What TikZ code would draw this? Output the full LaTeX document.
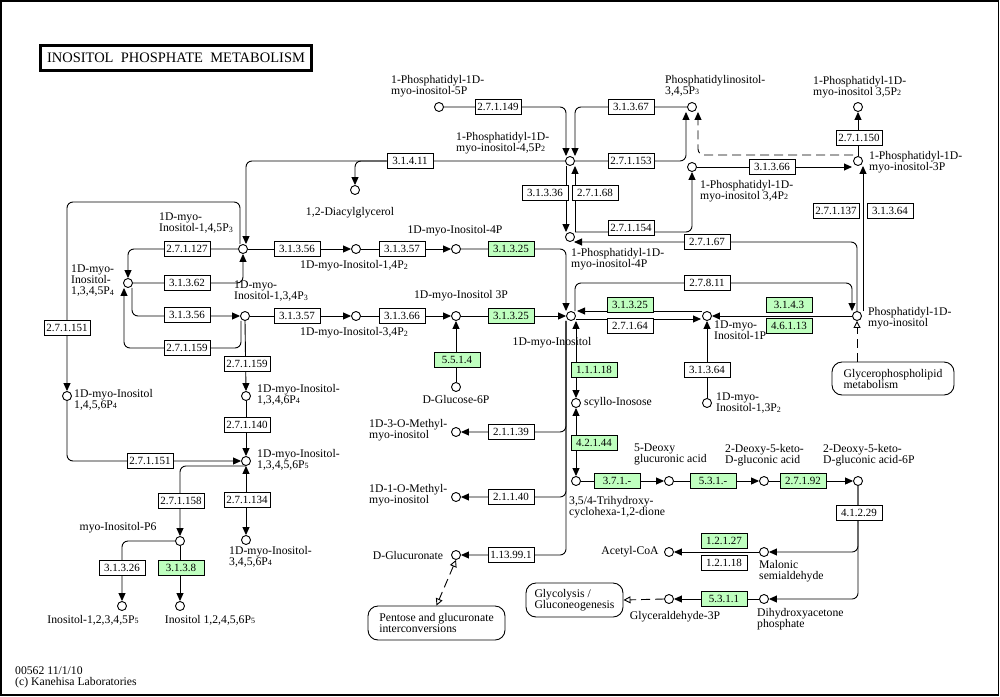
\documentclass[tikz,border=0pt]{standalone}
\usepackage{fontspec}
\setmainfont{Liberation Serif}
\usetikzlibrary{arrows.meta,backgrounds}
\definecolor{kgreen}{RGB}{191,255,191}
\newcommand\cpdf{\fontsize{11.7}{11}\selectfont}
\newcommand\enzf{\fontsize{11}{11}\selectfont}
\newcommand\ksb[1]{\raisebox{-0.6pt}{\fontsize{8}{8}\selectfont #1}}
\tikzset{
 cpd/.style={circle,draw,fill=white,inner sep=0pt,minimum size=9pt,line width=0.9pt},
 enz/.style={draw,fill=white,minimum width=46pt,minimum height=15pt,inner sep=0pt,font=\enzf,line width=0.9pt},
 genz/.style={enz,fill=kgreen},
 lbl/.style={font=\cpdf,inner sep=0pt,align=left},
 con/.style={line width=0.9pt,rounded corners=6pt},
 ar/.style={con,-{Triangle[length=8pt,width=7pt]}},
 rar/.style={con,{Triangle[length=8pt,width=7pt]}-{Triangle[length=8pt,width=7pt]}},
 dsh/.style={con,dash pattern=on 9pt off 5pt},
 oarr/.style={-{Triangle[open,length=7pt,width=7pt]}},
 mapbox/.style={draw,rounded corners=10pt,fill=white,font=\cpdf,align=left,line width=0.9pt,inner sep=0pt}
}
\begin{document}
\begin{tikzpicture}[x=1pt,y=-1pt]
\useasboundingbox (0,0) rectangle (1000,696);
\draw[line width=1.5pt] (0.75,0.75) rectangle (998.25,694.75);
\node[draw,line width=3pt,minimum width=271pt,minimum height=25pt,inner sep=0pt,font=\fontsize{14.5}{14.5}\selectfont] (title) at (176,58) {INOSITOL\ \ PHOSPHATE\ \ METABOLISM};
% compounds
\node[cpd] (pi5p) at (439,107) {};
\node[cpd] (pi45) at (570,161) {};
\node[cpd] (pip3) at (692,107) {};
\node[cpd] (pi35) at (858,107) {};
\node[cpd] (pi3p) at (858,161) {};
\node[cpd] (pi34) at (692,167) {};
\node[cpd] (dag) at (355,190) {};
\node[cpd] (pi4p) at (570,237) {};
\node[cpd] (ip3) at (243,249) {};
\node[cpd] (ins14) at (356,249) {};
\node[cpd] (ins4p) at (456,249) {};
\node[cpd] (ins1345) at (128,283) {};
\node[cpd] (ins134) at (245,316) {};
\node[cpd] (ins34) at (356,316) {};
\node[cpd] (ins3p) at (456,316) {};
\node[cpd] (ins) at (571,316) {};
\node[cpd] (ins1p) at (707,316) {};
\node[cpd] (pi) at (857,316) {};
\node[cpd] (g6p) at (456,387) {};
\node[cpd] (ins1346) at (246,396) {};
\node[cpd] (ins1456) at (67,396) {};
\node[cpd] (ins13p2) at (707,403) {};
\node[cpd] (scyllo) at (576,403) {};
\node[cpd] (me3) at (456,432) {};
\node[cpd] (ins13456) at (246,461) {};
\node[cpd] (trihyd) at (576,481) {};
\node[cpd] (deoxyglc) at (669,481) {};
\node[cpd] (dkg) at (764,481) {};
\node[cpd] (dkg6p) at (858,481) {};
\node[cpd] (me1) at (456,497) {};
\node[cpd] (ip6) at (180,541) {};
\node[cpd] (ins3456) at (246,540) {};
\node[cpd] (acoa) at (669,552) {};
\node[cpd] (malsa) at (764,552) {};
\node[cpd] (glcua) at (456,555) {};
\node[cpd] (ga3p) at (669,599) {};
\node[cpd] (dhap) at (764,599) {};
\node[cpd] (ins12345) at (122,606) {};
\node[cpd] (ins12456) at (180,606) {};
% enzymes
\node[enz] (e27149) at (498,107) {2.7.1.149};
\node[enz] (e31367) at (631,107) {3.1.3.67};
\node[enz] (e27153) at (631,161) {2.7.1.153};
\node[enz] (e31336) at (545,193) {3.1.3.36};
\node[enz] (e27168) at (595,193) {2.7.1.68};
\node[enz] (e27154) at (631,228) {2.7.1.154};
\node[enz] (e27150) at (859,138) {2.7.1.150};
\node[enz] (e31366a) at (772,167) {3.1.3.66};
\node[enz] (e27137) at (836,211) {2.7.1.137};
\node[enz] (e31364a) at (890,211) {3.1.3.64};
\node[enz] (e31411) at (410,161) {3.1.4.11};
\node[enz] (e27167) at (707,242) {2.7.1.67};
\node[enz] (e27811) at (707,283) {2.7.8.11};
\node[genz] (e31325a) at (511,249) {3.1.3.25};
\node[genz] (e31325b) at (511,316) {3.1.3.25};
\node[genz] (e31325c) at (630,305) {3.1.3.25};
\node[enz] (e27164) at (630,326) {2.7.1.64};
\node[genz] (e3143) at (789,305) {3.1.4.3};
\node[genz] (e46113) at (789,326) {4.6.1.13};
\node[enz] (e31364b) at (707,370) {3.1.3.64};
\node[genz] (e11118) at (594,370) {1.1.1.18};
\node[genz] (e42144) at (594,443) {4.2.1.44};
\node[genz] (e5514) at (457,360) {5.5.1.4};
\node[enz] (e27127) at (187,249) {2.7.1.127};
\node[enz] (e31362) at (187,283) {3.1.3.62};
\node[enz] (e31356a) at (187,315) {3.1.3.56};
\node[enz] (e27159a) at (187,348) {2.7.1.159};
\node[enz] (e31356b) at (297,249) {3.1.3.56};
\node[enz] (e31357a) at (402,249) {3.1.3.57};
\node[enz] (e31357b) at (297,316) {3.1.3.57};
\node[enz] (e31366b) at (402,316) {3.1.3.66};
\node[enz] (e27159b) at (247,364) {2.7.1.159};
\node[enz] (e27140) at (247,425) {2.7.1.140};
\node[enz] (e27151a) at (67,328) {2.7.1.151};
\node[enz] (e27151b) at (150,461) {2.7.1.151};
\node[enz] (e27158) at (181,501) {2.7.1.158};
\node[enz] (e27134) at (247,500) {2.7.1.134};
\node[enz] (e31326) at (122,568) {3.1.3.26};
\node[genz] (e3138) at (181,568) {3.1.3.8};
\node[enz] (e21139) at (511,432) {2.1.1.39};
\node[enz] (e21140) at (511,497) {2.1.1.40};
\node[enz] (e113991) at (511,555) {1.13.99.1};
\node[genz] (e371) at (617,481) {3.7.1.-};
\node[genz] (e531) at (713,481) {5.3.1.-};
\node[genz] (e27192) at (803,481) {2.7.1.92};
\node[enz] (e41229) at (859,513) {4.1.2.29};
\node[genz] (e12127) at (724,541) {1.2.1.27};
\node[enz] (e12118) at (724,563) {1.2.1.18};
\node[genz] (e5311) at (724,599) {5.3.1.1};
% map links
\node[mapbox,minimum width=137pt,minimum height=34pt] (pent) at (436.5,623) {Pentose and glucuronate\\interconversions};
\node[mapbox,minimum width=97pt,minimum height=34pt] (glyc) at (574.5,600) {Glycolysis /\\Gluconeogenesis};
\node[mapbox,minimum width=122pt,minimum height=33pt] (glp) at (893,378.5) {Glycerophospholipid\\metabolism};
% labels
\node[lbl,anchor=north west] (l-pi5p) at (391,75) {1-Phosphatidyl-1D-\\myo-inositol-5P};
\node[lbl,anchor=north west] (l-pi45) at (456,132) {1-Phosphatidyl-1D-\\myo-inositol-4,5P\ksb{2}};
\node[lbl,anchor=north west] (l-pip3) at (665,75) {Phosphatidylinositol-\\3,4,5P\ksb{3}};
\node[lbl,anchor=north west] (l-pi35) at (813,76) {1-Phosphatidyl-1D-\\myo-inositol 3,5P\ksb{2}};
\node[lbl,anchor=north west] (l-pi3p) at (869,151) {1-Phosphatidyl-1D-\\myo-inositol-3P};
\node[lbl,anchor=north west] (l-pi34) at (700,180) {1-Phosphatidyl-1D-\\myo-inositol 3,4P\ksb{2}};
\node[lbl] (l-dag) at (350,213) {1,2-Diacylglycerol};
\node[lbl,anchor=north west] (l-pi4p) at (571,248) {1-Phosphatidyl-1D-\\myo-inositol-4P};
\node[lbl,anchor=north west] (l-ip3) at (159,213) {1D-myo-\\Inositol-1,4,5P\ksb{3}};
\node[lbl] (l-ins14) at (354,266) {1D-myo-Inositol-1,4P\ksb{2}};
\node[lbl] (l-ins4p) at (455,231) {1D-myo-Inositol-4P};
\node[lbl,anchor=north west] (l-ins1345) at (71,265) {1D-myo-\\Inositol-\\1,3,4,5P\ksb{4}};
\node[lbl,anchor=north west] (l-ins134) at (234,281) {1D-myo-\\Inositol-1,3,4P\ksb{3}};
\node[lbl] (l-ins34) at (354,333) {1D-myo-Inositol-3,4P\ksb{2}};
\node[lbl] (l-ins3p) at (461,296) {1D-myo-Inositol 3P};
\node[lbl] (l-ins) at (552,343) {1D-myo-Inositol};
\node[lbl,anchor=north west] (l-ins1p) at (714,321) {1D-myo-\\Inositol-1P};
\node[lbl,anchor=north west] (l-pi) at (868,307) {Phosphatidyl-1D-\\myo-inositol};
\node[lbl] (l-g6p) at (456,399) {D-Glucose-6P};
\node[lbl,anchor=north west] (l-ins1346) at (257,384) {1D-myo-Inositol-\\1,3,4,6P\ksb{4}};
\node[lbl,anchor=north west] (l-ins1456) at (74,389) {1D-myo-Inositol\\1,4,5,6P\ksb{4}};
\node[lbl,anchor=north west] (l-ins13p2) at (716,393) {1D-myo-\\Inositol-1,3P\ksb{2}};
\node[lbl,anchor=west] (l-scyllo) at (584,403) {scyllo-Inosose};
\node[lbl,anchor=north west] (l-me3) at (369,419) {1D-3-O-Methyl-\\myo-inositol};
\node[lbl,anchor=north west] (l-ins13456) at (257,449) {1D-myo-Inositol-\\1,3,4,5,6P\ksb{5}};
\node[lbl,anchor=north west] (l-trihyd) at (569,496) {3,5/4-Trihydroxy-\\cyclohexa-1,2-dione};
\node[lbl,anchor=north west] (l-deoxyglc) at (634,444) {5-Deoxy\\glucuronic acid};
\node[lbl,anchor=north west] (l-dkg) at (725,444) {2-Deoxy-5-keto-\\D-gluconic acid};
\node[lbl,anchor=north west] (l-dkg6p) at (823,444) {2-Deoxy-5-keto-\\D-gluconic acid-6P};
\node[lbl,anchor=north west] (l-me1) at (369,484) {1D-1-O-Methyl-\\myo-inositol};
\node[lbl] (l-acoa) at (630,552) {Acetyl-CoA};
\node[lbl,anchor=north west] (l-malsa) at (759,560) {Malonic\\semialdehyde};
\node[lbl] (l-ip6) at (118,528) {myo-Inositol-P6};
\node[lbl,anchor=north west] (l-ins3456) at (229,546) {1D-myo-Inositol-\\3,4,5,6P\ksb{4}};
\node[lbl] (l-glcua) at (408,555) {D-Glucuronate};
\node[lbl] (l-ga3p) at (675,617) {Glyceraldehyde-3P};
\node[lbl,anchor=north west] (l-dhap) at (757,608) {Dihydroxyacetone\\phosphate};
\node[lbl] (l-ins12345) at (93,620) {Inositol-1,2,3,4,5P\ksb{5}};
\node[lbl] (l-ins12456) at (210,620) {Inositol 1,2,4,5,6P\ksb{5}};
\node[lbl,anchor=north west] (footer) at (15,667) {00562 11/1/10\\(c) Kanehisa Laboratories};
% connectors
\begin{pgfonlayer}{background}
\draw[ar] (pi5p.east) -- (566,107) -- ([xshift=-4pt]pi45.north);
\draw[ar] (pip3.west) -- (575,107) -- ([xshift=5pt]pi45.north);
\draw[ar] (pi45.east) -- (686,161) -- ([xshift=-6pt]pip3.south);
\draw[ar,dsh] ([yshift=6pt]pi3p.west) -- (698,155) -- ([xshift=6pt]pip3.south);
\draw[ar] (pi34.east) -- ([shift={(-6pt,-6pt)}]pi3p.center);
\draw[ar] ([shift={(5pt,5pt)}]pi4p.center) -- (692,232) -- (pi34.south);
\draw[ar] ([xshift=-4pt]pi45.south) -- ([xshift=-4pt]pi4p.north);
\draw[ar] ([xshift=5pt]pi4p.north) -- ([xshift=5pt]pi45.south);
\draw[ar] (pi3p.north) -- (pi35.south);
\draw[ar] ([shift={(6pt,5pt)}]pi.center) -- ([xshift=5pt]pi3p.south);
\draw[ar] (pi.north) -- (857,242) -- ([shift={(4pt,-5pt)}]pi4p.center);
\draw[ar] ([xshift=4pt]ins.north) -- (575,283) -- (852,283) -- ([xshift=-5pt]pi.north);
\draw[ar] ([shift={(-5pt,5pt)}]ins1p.center) -- ([shift={(6pt,5pt)}]ins.center);
\draw[ar] ([shift={(5pt,-3pt)}]ins.center) -- ([shift={(-6pt,-3pt)}]ins1p.center);
\draw[ar] (pi.west) -- (ins1p.east);
\draw[ar] (ins13p2.north) -- (ins1p.south);
\draw[ar] (pi45.west) -- (246,161) -- ([xshift=3pt]ip3.north);
\draw[ar] (e31411.west) -- (355,161) -- (dag.north);
\draw[ar] (ip3.west) -- (128,249) -- (ins1345.north);
\draw[ar] (ins1345.east) -- (243,283) -- (ip3.south);
\draw[ar] ([xshift=4pt]ins1345.south) -- (132,316) -- (ins134.west);
\draw[ar] ([xshift=-4pt]ins134.south) -- (241,348) -- (124,348) -- ([xshift=-4pt]ins1345.south);
\draw[ar] (ip3.east) -- (ins14.west);
\draw[ar] (ins14.east) -- (ins4p.west);
\draw[ar] (ins4p.east) -- (566,249) -- ([xshift=-5pt]ins.north);
\draw[ar] (ins134.east) -- (ins34.west);
\draw[ar] (ins34.east) -- (ins3p.west);
\draw[ar] (ins3p.east) -- (ins.west);
\draw[ar] (g6p.north) -- (ins3p.south);
\draw[rar] ([xshift=5pt]ins.south) -- (scyllo.north);
\draw[rar] (scyllo.south) -- (trihyd.north);
\draw[ar] ([xshift=-5pt]ins.south) -- (566,555) -- (glcua.east);
\draw[ar] ([xshift=-5pt]ins.south) -- (566,432) -- (me3.east);
\draw[ar] ([xshift=-5pt]ins.south) -- (566,497) -- (me1.east);
\draw[ar] (trihyd.east) -- (deoxyglc.west);
\draw[ar] (deoxyglc.east) -- (dkg.west);
\draw[ar] (dkg.east) -- (dkg6p.west);
\draw[ar] (dkg6p.south) -- (858,599) -- (dhap.east);
\draw[ar] (dkg6p.south) -- (858,552) -- (malsa.east);
\draw[ar] (malsa.west) -- (acoa.east);
\draw[ar] (dhap.west) -- (ga3p.east);
\draw[dsh,oarr] (ga3p.west) -- (glyc.east);
\draw[dsh,{Triangle[open,length=7pt,width=7pt]}-{Triangle[open,length=7pt,width=7pt]}] (glcua.south) -- (pent.north);
\draw[dsh,oarr] (pi |- glp.north) -- (pi.south);
\draw[ar] ([xshift=-3pt]ip3.north) -- (240,202) -- (67,202) -- (ins1456.north);
\draw[ar] (ins1456.south) -- (67,461) -- (ins13456.west);
\draw[ar] (ins134.south) -- (ins1346.north);
\draw[ar] (ins1346.south) -- (ins13456.north);
\draw[ar] (ins13456.south) -- (ins13456.south -| ip6) -- (ip6.north);
\draw[rar] (ins13456.south) -- (ins3456.north);
\draw[ar] (ip6.west) -- (122,541) -- (ins12345.north);
\draw[ar] (ip6.south) -- (ins12456.north);
\end{pgfonlayer}
\end{tikzpicture}
\end{document}
